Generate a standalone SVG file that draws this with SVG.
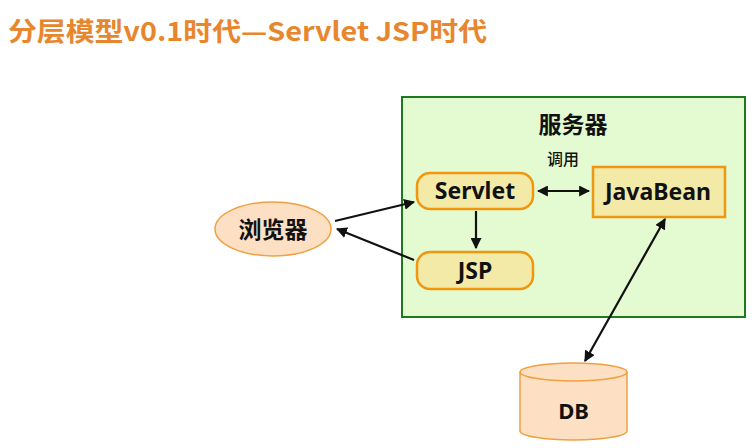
<svg xmlns="http://www.w3.org/2000/svg" width="755" height="448" viewBox="0 0 755 448">
<defs>
<style>
.t{font-family:"Noto Sans","Noto Sans CJK SC",sans-serif;font-weight:bold;fill:#111;text-anchor:middle}
.node{fill:#f3eaa8;stroke:#f0960f;stroke-width:2.5}
.c{stroke:#111;stroke-width:2.2;fill:none}
</style>
<marker id="a" viewBox="0 0 10 10" refX="9" refY="5" markerWidth="5" markerHeight="5" orient="auto-start-reverse">
<path d="M0,0 L10,5 L0,10 z" fill="#111"/>
</marker>
</defs>
<rect width="755" height="448" fill="#fff"/>
<text x="8" y="41" font-family="'Noto Sans CJK SC','Noto Sans',sans-serif" font-weight="bold" font-size="26" textLength="479" lengthAdjust="spacingAndGlyphs" fill="#e8862e">分层模型v0.1时代—Servlet JSP时代</text>
<g id="server">
<rect x="402" y="97" width="343" height="220" fill="#e4fad0" stroke="#1e7a1e" stroke-width="2"/>
<text class="t" x="573" y="133" font-size="23">服务器</text>
<text class="t" x="563" y="165" style="font-size:16px;font-weight:500">调用</text>
</g>
<g id="servlet">
<rect class="node" x="417" y="173" width="116" height="36" rx="13"/>
<text class="t" x="475" y="199" font-size="23">Servlet</text>
</g>
<g id="jsp">
<rect class="node" x="417" y="252" width="116" height="37" rx="13"/>
<text class="t" x="475" y="279" font-size="23">JSP</text>
</g>
<g id="javabean">
<rect class="node" x="593" y="167" width="132" height="50"/>
<text class="t" x="658" y="200" font-size="23">JavaBean</text>
</g>
<g id="browser">
<ellipse cx="273" cy="229" rx="58" ry="27" fill="#fde0c3" stroke="#f0a040" stroke-width="1.5"/>
<text class="t" x="273" y="238" font-size="23">浏览器</text>
</g>
<g id="db">
<path d="M520,372 L520,431 A53.5,9 0 0 0 627,431 L627,372" fill="#fde0c3" stroke="#f0a040" stroke-width="1.5"/>
<ellipse cx="573.5" cy="372" rx="53.5" ry="9" fill="#fde0c3" stroke="#f0a040" stroke-width="1.5"/>
<text class="t" x="573.5" y="419" font-size="22">DB</text>
</g>
<g id="connectors">
<line class="c" x1="335" y1="221" x2="414" y2="202" marker-end="url(#a)"/>
<line class="c" x1="414" y1="260" x2="337" y2="229" marker-end="url(#a)"/>
<line class="c" x1="538" y1="191" x2="589" y2="191" marker-start="url(#a)" marker-end="url(#a)"/>
<line class="c" x1="476" y1="211" x2="476" y2="248" marker-end="url(#a)"/>
<line class="c" x1="585" y1="361" x2="665" y2="219" marker-start="url(#a)" marker-end="url(#a)"/>
</g>
</svg>
